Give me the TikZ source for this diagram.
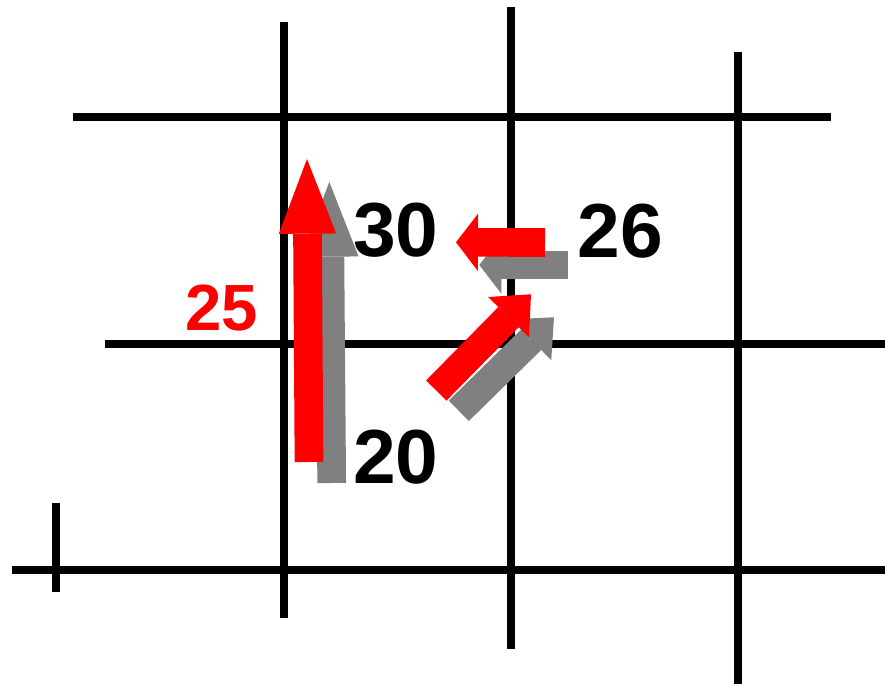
\documentclass[tikz,border=0pt]{standalone}
\usepackage{fontspec}
\setmainfont{Liberation Sans}
\usetikzlibrary{arrows.meta}
\tikzset{
  gridline/.style={line width=5.6pt, black},
  vec/.style={line width=21.5pt, -{Triangle[length=#1, width=43pt, line width=0pt]}},
  num/.style={inner sep=0pt, font=\fontsize{57.5}{60}\selectfont\bfseries}
}

\begin{document}
\begin{tikzpicture}[x=0.75pt, y=-0.75pt]
  \useasboundingbox (0,0) rectangle (885,684);
  % Grid
  \draw[gridline] (73,117) -- (831,117);
  \draw[gridline] (105,344) -- (885,344);
  \draw[gridline] (12,570) -- (885,570);
  \draw[gridline] (56,503) -- (56,592);
  \draw[gridline] (284,22) -- (284,618);
  \draw[gridline] (511,7) -- (511,649);
  \draw[gridline] (738,52) -- (738,684);
  % Values
  \node[num] (n30) at (396,230.5) {30};
  \node[num] (n20) at (396,457) {20};
  \node[num] (n26) at (620.5,231.5) {26};
  \node[num, red, font=\fontsize{49}{52}\selectfont\bfseries] (n25) at (221.5,308.5) {25};
  % Arrow end points
  \coordinate (gvA) at (331.7,483);   \coordinate (gvB) at (329.3,182);
  \coordinate (rvA) at (309,462);     \coordinate (rvB) at (307,159);
  \coordinate (ghA) at (567.7,265);   \coordinate (ghB) at (479.3,265);
  \coordinate (rhA) at (545,242.5);   \coordinate (rhB) at (456,242.3);
  \coordinate (gdA) at (458.8,410.8); \coordinate (gdB) at (554,317.3);
  \coordinate (rdA) at (436.3,390.5); \coordinate (rdB) at (531,294.3);
  % Gray arrows below
  \draw[vec=56pt, gray] (gvA) -- (gvB);
  \draw[vec=16.5pt, gray] (ghA) -- (ghB);
  \draw[vec=24pt, gray] (gdA) -- (gdB);
  % Red arrows on top
  \draw[vec=56pt, red] (rvA) -- (rvB);
  \draw[vec=16.5pt, red] (rhA) -- (rhB);
  \draw[vec=24pt, red] (rdA) -- (rdB);
\end{tikzpicture}
\end{document}
